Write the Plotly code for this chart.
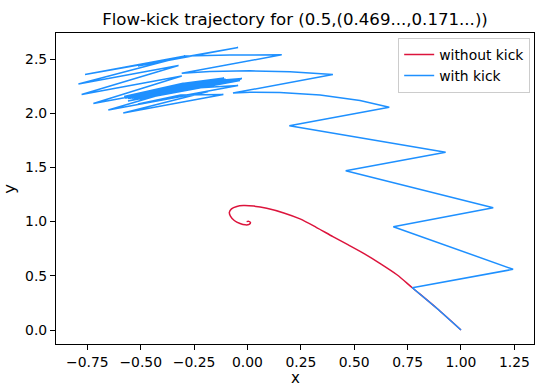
import plotly.graph_objects as go

# ---- data ----
red_x = [1.000, 0.888, 0.772, 0.700, 0.620, 0.550, 0.470, 0.400, 0.320, 0.246, 0.170, 0.090,
         0.030, -0.020, -0.050, -0.075, -0.085, -0.080, -0.062, -0.035, -0.010, 0.008, 0.014,
         0.006, -0.004]
red_y = [0.000, 0.198, 0.390, 0.510, 0.615, 0.700, 0.787, 0.862, 0.950, 1.025, 1.080, 1.123,
         1.143, 1.148, 1.140, 1.117, 1.085, 1.050, 1.010, 0.982, 0.970, 0.975, 0.990,
         1.002, 1.000]

blue_x = [1.000, 0.888, 0.772,
          1.244, 0.683,
          1.151, 0.460,
          0.928, 0.196,
          0.664, 0.527, 0.340, 0.152, 0.012, -0.068,
          0.400, 0.199, 0.012, -0.176, -0.308,
          0.160, -0.082, -0.293, -0.513,
          -0.044, -0.761,
          -0.293, -0.792,
          -0.323, -0.777,
          -0.308, -0.722,
          -0.254, -0.652,
          -0.184, -0.582,
          -0.113, -0.313, -0.513,
          -0.044, -0.302, -0.560,
          -0.091, -0.298, -0.504,
          -0.035, -0.305, -0.574,
          -0.105, -0.300, -0.494,
          -0.026, -0.302, -0.578,
          -0.110, -0.305, -0.499,
          -0.030, -0.300, -0.569,
          -0.101, -0.305, -0.508,
          -0.040, -0.300, -0.560,
          -0.091, -0.305, -0.518,
          -0.049, -0.300, -0.550,
          -0.082, -0.305, -0.527,
          -0.059, -0.300, -0.541,
          -0.073, -0.303, -0.534,
          -0.065]
blue_y = [0.000, 0.198, 0.390,
          0.560, 0.953,
          1.128, 1.470,
          1.640, 1.885,
          2.055, 2.117, 2.168, 2.191, 2.193, 2.186,
          2.357, 2.382, 2.391, 2.385, 2.368,
          2.539, 2.537, 2.528, 2.435,
          2.606, 2.357,
          2.528, 2.269,
          2.440, 2.172,
          2.343, 2.089,
          2.260, 2.030,
          2.200, 2.002,
          2.173, 2.169, 2.085,
          2.256, 2.225, 2.113,
          2.283, 2.247, 2.131,
          2.302, 2.261, 2.140,
          2.311, 2.270, 2.149,
          2.320, 2.277, 2.154,
          2.325, 2.275, 2.145,
          2.316, 2.268, 2.140,
          2.311, 2.264, 2.136,
          2.306, 2.261, 2.136,
          2.306, 2.262, 2.137,
          2.308, 2.262, 2.137,
          2.308, 2.263, 2.138,
          2.309, 2.264, 2.138,
          2.309, 2.264, 2.138,
          2.309]

x_ticks = [-0.75, -0.5, -0.25, 0.0, 0.25, 0.5, 0.75, 1.0, 1.25]
y_ticks = [0.0, 0.5, 1.0, 1.5, 2.0, 2.5]

title_text = "Flow-kick trajectory for (0.5,(0.469...,0.171...))"

FONT = "DejaVu Sans"

fig = go.Figure()
fig.add_trace(go.Scatter(x=red_x, y=red_y, mode="lines", name="without kick",
                         line=dict(color="#DC143C", width=1.5, shape="spline", smoothing=0.8)))
fig.add_trace(go.Scatter(x=blue_x, y=blue_y, mode="lines", name="with kick",
                         line=dict(color="#1E90FF", width=1.5)))

axis_common = dict(showline=True, linecolor="black", linewidth=1.1, mirror=True,
                   ticks="outside", ticklen=5, tickwidth=1.1, tickcolor="black",
                   showgrid=False, zeroline=False, automargin=False,
                   tickfont=dict(family=FONT, size=13.9, color="black"))

fig.update_layout(
    width=539, height=387,
    margin=dict(l=56, r=5, t=33, b=43),
    paper_bgcolor="white", plot_bgcolor="white",
    font=dict(family=FONT, color="black"),
    title=dict(text=title_text, x=0.5, xref="paper", y=1 - 19 / 387, yref="container",
               xanchor="center", yanchor="middle",
               font=dict(family=FONT, size=16.6, color="black")),
    xaxis=dict(range=[-0.897, 1.342], tickvals=x_ticks, tickformat=".2f", **axis_common),
    yaxis=dict(range=[-0.129, 2.740], tickvals=y_ticks, tickformat=".1f", **axis_common),
    legend=dict(x=0.992, y=0.984, xanchor="right", yanchor="top",
                bgcolor="rgba(255,255,255,0.8)", bordercolor="#cccccc", borderwidth=1,
                font=dict(family=FONT, size=13.9, color="black"),
                itemwidth=30),
    showlegend=True,
    annotations=[
        dict(text="x", xref="paper", yref="paper", x=0.5, y=-0.109,
             xanchor="center", yanchor="middle", showarrow=False,
             font=dict(family=FONT, size=15, color="black")),
        dict(text="y", xref="paper", yref="paper", x=-0.098, y=0.5,
             xanchor="center", yanchor="middle", showarrow=False, textangle=-90,
             font=dict(family=FONT, size=16.6, color="black")),
    ],
)

fig.write_html("out.html", config={"displayModeBar": False},
               post_script="document.body.style.margin='0';document.body.style.padding='0';")
